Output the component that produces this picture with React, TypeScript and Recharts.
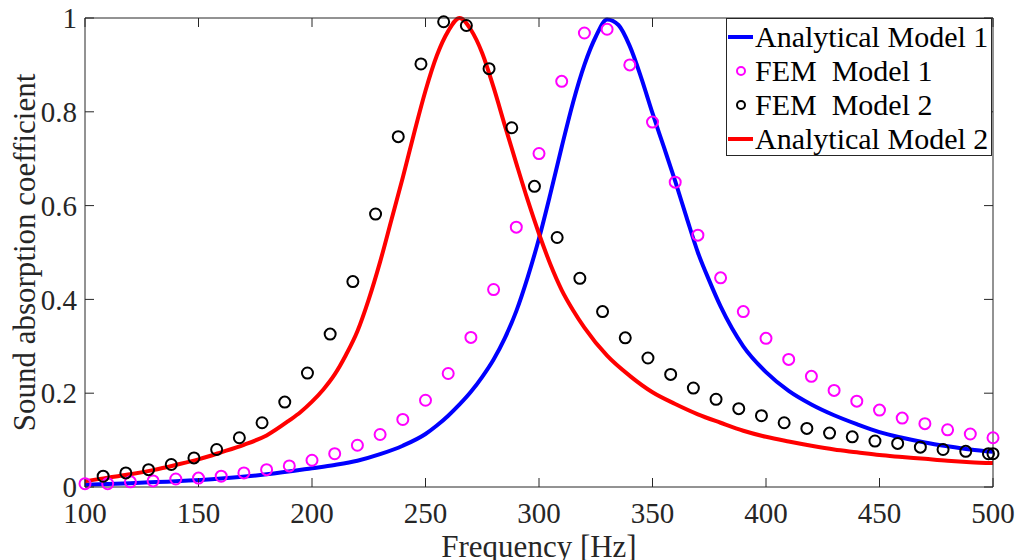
import { ComposedChart, Legend, Line, Scatter, XAxis, YAxis } from "recharts";

// analytical curves
const model1Freq = [
  100, 120, 140, 160, 180, 200, 210, 220, 230, 240, 250, 255, 260, 265, 270,
  275, 280, 285, 290, 295, 300, 305, 310, 315, 320, 325, 330, 335, 340, 345,
  350, 355, 360, 365, 370, 375, 380, 390, 400, 410, 420, 430, 440, 450, 460,
  470, 480, 490, 500,
];
const model1Abs = [
  0.005, 0.008, 0.012, 0.018, 0.027, 0.04, 0.047, 0.056, 0.07, 0.088, 0.113,
  0.131, 0.152, 0.176, 0.203, 0.235, 0.272, 0.318, 0.375, 0.447, 0.53, 0.625,
  0.725, 0.82, 0.9, 0.96, 0.997, 0.985, 0.94, 0.873, 0.797, 0.725, 0.652,
  0.575, 0.5, 0.44, 0.385, 0.3, 0.245, 0.205, 0.176, 0.153, 0.134, 0.117,
  0.105, 0.095, 0.087, 0.08, 0.075,
];

const model2Freq = [
  100, 110, 120, 130, 140, 150, 160, 170, 180, 190, 195, 200, 205, 210, 215,
  220, 225, 230, 235, 240, 245, 250, 255, 260, 265, 270, 275, 280, 285, 290,
  295, 300, 305, 310, 315, 320, 330, 340, 350, 360, 370, 380, 390, 400, 410,
  420, 430, 440, 450, 460, 470, 480, 490, 500,
];
const model2Abs = [
  0.012, 0.02, 0.027, 0.036, 0.047, 0.059, 0.074, 0.09, 0.11, 0.142, 0.16,
  0.182, 0.208, 0.24, 0.282, 0.332, 0.4, 0.48, 0.57, 0.66, 0.755, 0.845,
  0.92, 0.972, 1.0, 0.975, 0.925, 0.852, 0.77, 0.69, 0.612, 0.54, 0.475,
  0.42, 0.377, 0.34, 0.28, 0.237, 0.202, 0.177, 0.155, 0.137, 0.12, 0.107,
  0.097, 0.088, 0.08, 0.074, 0.068, 0.064, 0.06, 0.056, 0.053, 0.051,
];

// FEM samples
const fem1Freq = [
  100, 110, 120, 130, 140, 150, 160, 170, 180, 190, 200, 210, 220, 230, 240,
  250, 260, 270, 280, 290, 300, 310, 320, 330, 340, 350, 360, 370, 380, 390,
  400, 410, 420, 430, 440, 450, 460, 470, 480, 490, 500,
];
const fem1Abs = [
  0.007, 0.007, 0.011, 0.013, 0.017, 0.019, 0.023, 0.03, 0.037, 0.045, 0.057,
  0.071, 0.089, 0.112, 0.144, 0.185, 0.242, 0.319, 0.421, 0.554, 0.711,
  0.865, 0.968, 0.976, 0.9, 0.778, 0.65, 0.537, 0.446, 0.374, 0.317, 0.272,
  0.236, 0.206, 0.183, 0.164, 0.147, 0.135, 0.122, 0.113, 0.105,
];

const fem2Freq = [
  108, 118, 128, 138, 148, 158, 168, 178, 188, 198, 208, 218, 228, 238, 248,
  258, 268, 278, 288, 298, 308, 318, 328, 338, 348, 358, 368, 378, 388, 398,
  408, 418, 428, 438, 448, 458, 468, 478, 488, 498, 500,
];
const fem2Abs = [
  0.023, 0.03, 0.037, 0.048, 0.062, 0.08, 0.105, 0.137, 0.181, 0.243, 0.326,
  0.438, 0.582, 0.747, 0.902, 0.992, 0.984, 0.892, 0.766, 0.641, 0.532,
  0.445, 0.374, 0.318, 0.275, 0.24, 0.211, 0.187, 0.167, 0.152, 0.137,
  0.125, 0.115, 0.107, 0.098, 0.093, 0.085, 0.08, 0.076, 0.071, 0.071,
];

const xDomain = [100, 500];
const yDomain = [0, 1];
const xTicks = [100, 150, 200, 250, 300, 350, 400, 450, 500];
const yTicks = [0, 0.2, 0.4, 0.6, 0.8, 1];

const legendItems = [
  { name: "Analytical Model 1", color: "#0000ff", kind: "line" },
  { name: "FEM  Model 1", color: "#ff00ff", kind: "circle" },
  { name: "FEM  Model 2", color: "#000000", kind: "circle" },
  { name: "Analytical Model 2", color: "#ff0000", kind: "line" },
];

const axisColor = "#262626";
const fontFamily = '"Liberation Serif", "Times New Roman", serif';

const toPoints = (freq: number[], abs: number[]) =>
  freq.map((f, i) => ({ f, a: abs[i] }));

const ring = (color: string) => (props: any) =>
  (
    <circle
      cx={props.cx}
      cy={props.cy}
      fill="none"
      r={5.5}
      stroke={color}
      strokeWidth={2}
    />
  );

function LegendBox() {
  return (
    <div
      style={{
        background: "#fff",
        border: `1px solid ${axisColor}`,
        boxSizing: "border-box",
        color: "#000",
        fontFamily,
        fontSize: 30,
        height: 138,
        paddingTop: 1,
        width: 266,
      }}
    >
      {legendItems.map((item) => (
        <div
          key={item.name}
          style={{ alignItems: "center", display: "flex", height: 34, lineHeight: 1 }}
        >
          <svg height={20} style={{ flex: "none" }} width={28}>
            {item.kind === "line" ? (
              <line stroke={item.color} strokeWidth={4} x1={1} x2={26} y1={10} y2={10} />
            ) : (
              <circle cx={14} cy={10} fill="none" r={4} stroke={item.color} strokeWidth={2} />
            )}
          </svg>
          <span style={{ whiteSpace: "pre" }}>{item.name}</span>
        </div>
      ))}
    </div>
  );
}

const tickStyle = { fill: axisColor, fontFamily, fontSize: 29 };
const blankTick = () => "";

// extra mirrored axes, no series on them: they only draw the inward ticks
// and the top/right frame. allowDataOverflow gives them a domain without data.
const tickAxisProps = {
  allowDataOverflow: true,
  mirror: true,
  stroke: axisColor,
  tickFormatter: blankTick,
  tickLine: { stroke: axisColor },
  tickSize: 9,
  type: "number" as const,
};

export default function App() {
  return (
    <div style={{ left: 0, position: "absolute", top: 0 }}>
      <ComposedChart
        height={560}
        margin={{ bottom: 0, left: 0, right: 23, top: 18 }}
        style={{ background: "#fff" }}
        width={1016}
      >
        <XAxis
          axisLine={{ stroke: axisColor }}
          dataKey="f"
          domain={xDomain}
          height={73}
          label={{
            fill: axisColor,
            fontFamily,
            fontSize: 31,
            offset: 3,
            position: "insideBottom",
            value: "Frequency [Hz]",
          }}
          tick={tickStyle}
          tickLine={false}
          tickMargin={15}
          tickSize={0}
          ticks={xTicks}
          type="number"
        />
        <XAxis
          {...tickAxisProps}
          axisLine={false}
          dataKey="f"
          domain={xDomain}
          height={1}
          ticks={xTicks}
          xAxisId="bottomTicks"
        />
        <XAxis
          {...tickAxisProps}
          axisLine={{ stroke: axisColor }}
          dataKey="f"
          domain={xDomain}
          height={1}
          orientation="top"
          ticks={xTicks}
          xAxisId="top"
        />
        <YAxis
          axisLine={{ stroke: axisColor }}
          domain={yDomain}
          label={{
            angle: -90,
            fill: axisColor,
            fontFamily,
            fontSize: 31,
            offset: 24,
            position: "insideLeft",
            style: { textAnchor: "middle" },
            value: "Sound absorption coefficient",
          }}
          tick={tickStyle}
          tickFormatter={(v) => String(v)}
          tickLine={false}
          tickMargin={8}
          tickSize={0}
          ticks={yTicks}
          type="number"
          width={85}
        />
        <YAxis
          {...tickAxisProps}
          axisLine={false}
          domain={yDomain}
          ticks={yTicks}
          width={1}
          yAxisId="leftTicks"
        />
        <YAxis
          {...tickAxisProps}
          axisLine={{ stroke: axisColor }}
          domain={yDomain}
          orientation="right"
          ticks={yTicks}
          width={1}
          yAxisId="right"
        />
        <Line
          data={toPoints(model1Freq, model1Abs)}
          dataKey="a"
          dot={false}
          isAnimationActive={false}
          name="Analytical Model 1"
          stroke="#0000ff"
          strokeWidth={4}
          type="monotone"
        />
        <Scatter
          data={toPoints(fem1Freq, fem1Abs)}
          dataKey="a"
          isAnimationActive={false}
          name="FEM  Model 1"
          shape={ring("#ff00ff")}
        />
        <Scatter
          data={toPoints(fem2Freq, fem2Abs)}
          dataKey="a"
          isAnimationActive={false}
          name="FEM  Model 2"
          shape={ring("#000000")}
        />
        <Line
          data={toPoints(model2Freq, model2Abs)}
          dataKey="a"
          dot={false}
          isAnimationActive={false}
          name="Analytical Model 2"
          stroke="#ff0000"
          strokeWidth={4}
          type="monotone"
        />
        <Legend
          align="center"
          content={() => <LegendBox />}
          layout="vertical"
          verticalAlign="middle"
          wrapperStyle={{ left: 726, top: 18, width: 266 }}
        />
      </ComposedChart>
    </div>
  );
}
